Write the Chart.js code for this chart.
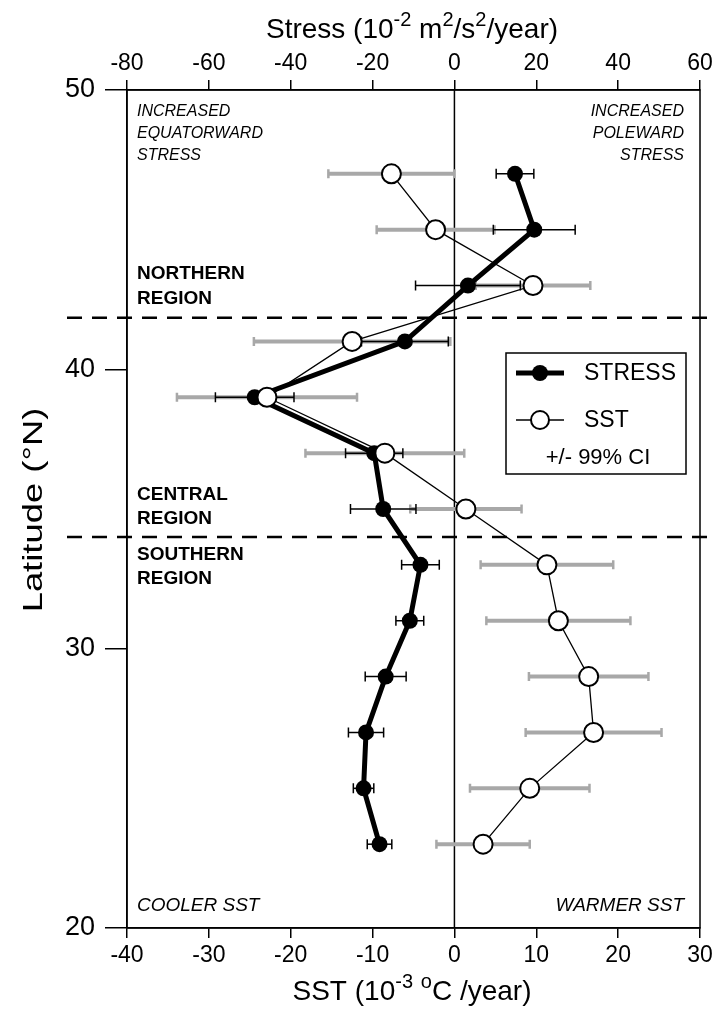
<!DOCTYPE html>
<html>
<head>
<meta charset="utf-8">
<script src="https://cdn.jsdelivr.net/npm/chart.js@4.4.1/dist/chart.umd.min.js"></script>
<style>
  html, body { margin: 0; padding: 0; background: #fff; }
  #wrap { width: 712px; height: 1017px; position: relative; }
</style>
</head>
<body>
<div id="wrap"><canvas id="c" width="712" height="1017"></canvas></div>
<script>
// Latitude of each trend estimate (°N)
const latitudes = [47, 45, 43, 41, 39, 37, 35, 33, 31, 29, 27, 25, 23];
// Wind stress trend (10^-2 m^2/s^2/year) and its 99% confidence half-width
const stressTrend = [14.8, 19.5, 3.3, -12.1, -48.8, -19.6, -17.4, -8.3, -10.9, -16.8, -21.6, -22.2, -18.3];
const stressCI = [4.6, 10.0, 12.8, 10.6, 9.6, 7.0, 8.0, 4.6, 3.4, 5.0, 4.3, 2.5, 3.0];
// Sea surface temperature trend (10^-3 °C/year) and its 99% confidence half-width
const sstTrend = [-7.7, -2.3, 9.6, -12.5, -22.9, -8.5, 1.4, 11.3, 12.7, 16.4, 17.0, 9.2, 3.5];
const sstCI = [7.7, 7.2, 7.0, 12.0, 11.0, 9.7, 6.8, 8.1, 8.8, 7.3, 8.3, 7.3, 5.7];
// Region boundaries (°N)
const regionBounds = [41.85, 34.0];
// Axis ranges and tick steps
const sstRange = [-40, 30], sstStep = 10;
const stressRange = [-80, 60], stressStep = 20;
const latRange = [20, 50], latStep = 10;

const FONT = '"Liberation Sans", Arial, Helvetica, sans-serif';

function drawRich(ctx, parts, cx, cy, size) {
  // parts: [text, isSuperscript]
  const supSize = Math.round(size * 0.7);
  let total = 0;
  const widths = parts.map(([t, sup]) => {
    ctx.font = (sup ? supSize : size) + 'px ' + FONT;
    const w = ctx.measureText(t).width;
    total += w;
    return w;
  });
  let x = cx - total / 2;
  ctx.textAlign = 'left';
  ctx.textBaseline = 'alphabetic';
  parts.forEach(([t, sup], i) => {
    ctx.font = (sup ? supSize : size) + 'px ' + FONT;
    ctx.fillText(t, x, cy - (sup ? size * 0.42 : 0));
    x += widths[i];
  });
}

function errorBar(ctx, x0, x1, y, color, width, capH, capW) {
  ctx.strokeStyle = color;
  ctx.lineWidth = width;
  ctx.beginPath();
  ctx.moveTo(x0, y); ctx.lineTo(x1, y);
  ctx.stroke();
  ctx.lineWidth = capW;
  ctx.beginPath();
  ctx.moveTo(x0, y - capH / 2); ctx.lineTo(x0, y + capH / 2);
  ctx.moveTo(x1, y - capH / 2); ctx.lineTo(x1, y + capH / 2);
  ctx.stroke();
}

const decorations = {
  id: 'decorations',
  beforeDatasetsDraw(chart) {
    const { ctx, chartArea: a, scales } = chart;
    const xs = scales.x, xt = scales.xTop, y = scales.y;
    ctx.save();
    // zero line
    const x0 = xs.getPixelForValue(0);
    ctx.strokeStyle = '#000';
    ctx.lineWidth = 1.5;
    ctx.beginPath();
    ctx.moveTo(x0, a.top); ctx.lineTo(x0, a.bottom);
    ctx.stroke();
    // region boundaries
    ctx.setLineDash([15, 10]);
    ctx.lineWidth = 2.5;
    regionBounds.forEach(lat => {
      const py = y.getPixelForValue(lat);
      ctx.beginPath();
      ctx.moveTo(67, py); ctx.lineTo(712, py);
      ctx.stroke();
    });
    ctx.setLineDash([]);
    // SST confidence intervals (grey)
    latitudes.forEach((lat, i) => {
      const py = y.getPixelForValue(lat);
      errorBar(ctx, xs.getPixelForValue(sstTrend[i] - sstCI[i]),
        xs.getPixelForValue(sstTrend[i] + sstCI[i]), py, '#a8a8a8', 4, 9, 2.5);
    });
    // Stress confidence intervals (black)
    latitudes.forEach((lat, i) => {
      const py = y.getPixelForValue(lat);
      errorBar(ctx, xt.getPixelForValue(stressTrend[i] - stressCI[i]),
        xt.getPixelForValue(stressTrend[i] + stressCI[i]), py, '#000', 1.5, 10, 1.5);
    });
    ctx.restore();
  },
  afterDraw(chart) {
    const { ctx, chartArea: a } = chart;
    ctx.save();
    // frame
    ctx.strokeStyle = '#000';
    ctx.lineWidth = 1.5;
    ctx.strokeRect(a.left, a.top, a.right - a.left, a.bottom - a.top);
    ctx.fillStyle = '#000';
    // axis titles
    drawRich(ctx, [['Stress (10', false], ['-2', true], [' m', false], ['2', true], ['/s', false], ['2', true], ['/year)', false]], 412, 38, 28);
    drawRich(ctx, [['SST (10', false], ['-3', true], [' ', false], ['o', true], ['C /year)', false]], 412, 1000, 28);
    ctx.save();
    ctx.translate(42, 510);
    ctx.rotate(-Math.PI / 2);
    ctx.scale(1.3, 1);
    ctx.font = '28px ' + FONT;
    ctx.textAlign = 'center';
    ctx.textBaseline = 'alphabetic';
    ctx.fillText('Latitude (°N)', 0, 0);
    ctx.restore();
    // corner annotations
    ctx.font = 'italic 16px ' + FONT;
    ctx.textBaseline = 'middle';
    ctx.textAlign = 'left';
    ['INCREASED', 'EQUATORWARD', 'STRESS'].forEach((t, i) => ctx.fillText(t, 137, 112 + i * 22));
    ctx.textAlign = 'right';
    ['INCREASED', 'POLEWARD', 'STRESS'].forEach((t, i) => ctx.fillText(t, 684, 112 + i * 22));
    ctx.font = 'italic 19px ' + FONT;
    ctx.textAlign = 'left';
    ctx.fillText('COOLER SST', 137, 906);
    ctx.textAlign = 'right';
    ctx.fillText('WARMER SST', 684, 906);
    // region names
    ctx.font = 'bold 19px ' + FONT;
    ctx.textAlign = 'left';
    [['NORTHERN', 274], ['REGION', 299], ['CENTRAL', 495], ['REGION', 519], ['SOUTHERN', 555], ['REGION', 579]]
      .forEach(([t, py]) => ctx.fillText(t, 137, py));
    // legend
    ctx.fillStyle = '#fff';
    ctx.fillRect(506, 353, 180, 121);
    ctx.strokeStyle = '#000';
    ctx.lineWidth = 1.5;
    ctx.strokeRect(506, 353, 180, 121);
    ctx.lineWidth = 5;
    ctx.beginPath(); ctx.moveTo(516, 373); ctx.lineTo(564, 373); ctx.stroke();
    ctx.fillStyle = '#000';
    ctx.beginPath(); ctx.arc(540, 373, 8, 0, Math.PI * 2); ctx.fill();
    ctx.lineWidth = 1.3;
    ctx.beginPath(); ctx.moveTo(516, 420); ctx.lineTo(564, 420); ctx.stroke();
    ctx.fillStyle = '#fff';
    ctx.lineWidth = 2;
    ctx.beginPath(); ctx.arc(540, 420, 9, 0, Math.PI * 2); ctx.fill(); ctx.stroke();
    ctx.fillStyle = '#000';
    ctx.font = '23px ' + FONT;
    ctx.textAlign = 'left';
    ctx.fillText('STRESS', 584, 374);
    ctx.fillText('SST', 584, 421);
    ctx.font = '22px ' + FONT;
    ctx.textAlign = 'center';
    ctx.fillText('+/- 99% CI', 598, 458);
    ctx.restore();
  }
};

const stressPoints = latitudes.map((lat, i) => ({ x: stressTrend[i], y: lat }));
const sstPoints = latitudes.map((lat, i) => ({ x: sstTrend[i], y: lat }));

function axisCommon(extra) {
  return Object.assign({
    type: 'linear',
    grid: { drawOnChartArea: false, color: '#000', lineWidth: 1.5, tickLength: 10, tickWidth: 1.5 },
    border: { display: true, color: '#000', width: 1.5 },
    title: { display: false }
  }, extra);
}

new Chart(document.getElementById('c'), {
  type: 'scatter',
  data: {
    datasets: [
      {
        label: 'SST',
        data: sstPoints,
        xAxisID: 'x', yAxisID: 'y',
        showLine: true,
        borderColor: '#000',
        borderWidth: 1.3,
        pointRadius: 9.5,
        pointBackgroundColor: '#fff',
        pointBorderColor: '#000',
        pointBorderWidth: 2,
        order: 0
      },
      {
        label: 'STRESS',
        data: stressPoints,
        xAxisID: 'xTop', yAxisID: 'y',
        showLine: true,
        borderColor: '#000',
        borderWidth: 5,
        pointRadius: 8,
        pointBackgroundColor: '#000',
        pointBorderColor: '#000',
        pointBorderWidth: 0,
        order: 1
      }
    ]
  },
  options: {
    responsive: false,
    animation: false,
    layout: { padding: { left: 0, right: 12, top: 0, bottom: 0 } },
    plugins: { legend: { display: false }, tooltip: { enabled: false } },
    scales: {
      x: axisCommon({
        position: 'bottom', min: sstRange[0], max: sstRange[1],
        ticks: { stepSize: sstStep, color: '#000', font: { family: FONT, size: 23 }, padding: 4, maxRotation: 0 },
        afterFit(s) { s.height = 89; s.paddingLeft = 0; s.paddingRight = 0; }
      }),
      xTop: axisCommon({
        position: 'top', min: stressRange[0], max: stressRange[1],
        ticks: { stepSize: stressStep, color: '#000', font: { family: FONT, size: 23 }, padding: 3, maxRotation: 0 },
        afterFit(s) { s.height = 90; s.paddingLeft = 0; s.paddingRight = 0; }
      }),
      y: axisCommon({
        position: 'left', min: latRange[0], max: latRange[1],
        grid: { drawOnChartArea: false, color: '#000', lineWidth: 1.5, tickLength: 22, tickWidth: 1.5 },
        ticks: { stepSize: latStep, color: '#000', font: { family: FONT, size: 27 }, padding: 10 },
        afterFit(s) { s.width = 127; s.paddingTop = 0; s.paddingBottom = 0; }
      })
    }
  },
  plugins: [decorations]
});
</script>
</body>
</html>
